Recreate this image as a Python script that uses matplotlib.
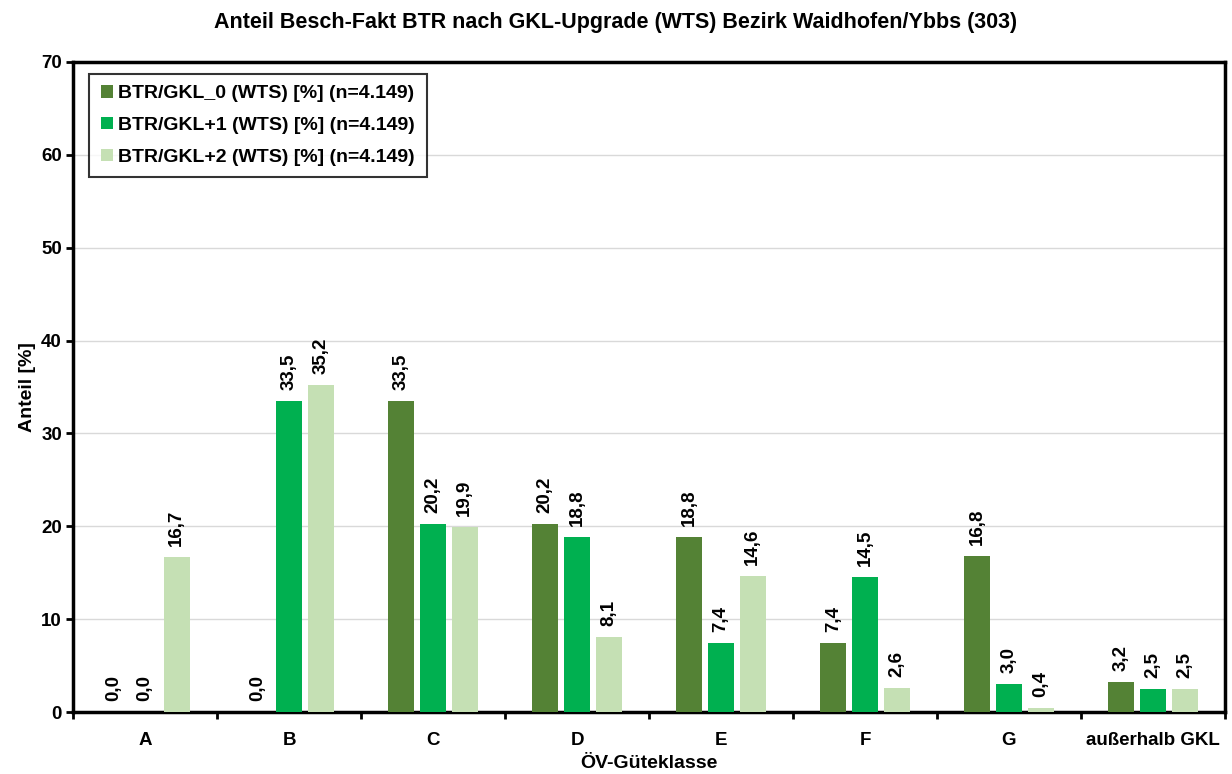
import matplotlib; matplotlib.use('Agg')
from matplotlib import pyplot as plt
import numpy as np

categories = ['A', 'B', 'C', 'D', 'E', 'F', 'G', 'außerhalb GKL']
series_names = ['BTR/GKL_0 (WTS) [%] (n=4.149)',
                'BTR/GKL+1 (WTS) [%] (n=4.149)',
                'BTR/GKL+2 (WTS) [%] (n=4.149)']
gkl_0 = [0.0, 0.0, 33.5, 20.2, 18.8, 7.4, 16.8, 3.2]
gkl_1 = [0.0, 33.5, 20.2, 18.8, 7.4, 14.5, 3.0, 2.5]
gkl_2 = [16.7, 35.2, 19.9, 8.1, 14.6, 2.6, 0.4, 2.5]
colors = ['#548235', '#00B050', '#C5E0B4']

plt.rcParams['font.family'] = ['Liberation Sans', 'DejaVu Sans']
plt.rcParams['font.weight'] = 'bold'

fig = plt.figure(figsize=(12.32, 7.74), dpi=100)
ax = fig.add_axes([0.0593, 0.080, 0.935, 0.840])

x = np.arange(len(categories))
width = 0.18
step = 0.22
for i, (vals, col, name) in enumerate(zip([gkl_0, gkl_1, gkl_2], colors, series_names)):
	pos = x + (i - 1) * step
	ax.bar(pos, vals, width, color=col, label=name, zorder=3)
	for xp, v in zip(pos, vals):
		ax.text(xp, v + 1.2, ('%.1f' % v).replace('.', ','), rotation=90,
			ha='center', va='bottom', fontsize=13.5, fontweight='bold', zorder=4)

ax.set_xlim(-0.5, len(categories) - 0.5)
ax.set_ylim(0, 70)
ax.set_yticks(range(0, 71, 10))
ax.set_xticks(x)
ax.set_xticklabels(categories, fontsize=13.5, fontweight='bold')
ax.set_xticks(np.arange(-0.5, len(categories), 1.0), minor=True)
ax.tick_params(axis='x', which='major', length=0, pad=14)
ax.tick_params(axis='x', which='minor', length=5, width=2, direction='out')
ax.tick_params(axis='y', labelsize=13.5, length=5, width=2, direction='out', pad=3)
for lab in ax.get_yticklabels():
	lab.set_fontweight('bold')
ax.yaxis.grid(True, color='#d9d9d9', linewidth=1, zorder=0)
for sp in ax.spines.values():
	sp.set_linewidth(2.5)
	sp.set_color('black')

ax.set_xlabel('ÖV-Güteklasse', fontsize=14, fontweight='bold', labelpad=5)
ax.set_ylabel('Anteil [%]', fontsize=14, fontweight='bold', labelpad=4)
fig.suptitle('Anteil Besch-Fakt BTR nach GKL-Upgrade (WTS) Bezirk Waidhofen/Ybbs (303)',
	fontsize=15.5, fontweight='bold', y=0.985)

# legend box a bit roomier than default, like the original
leg = ax.legend(loc='upper left', fontsize=14, frameon=True, fancybox=False,
	handlelength=0.6, handleheight=0.6, handletextpad=0.3, borderpad=0.6,
	labelspacing=0.75, borderaxespad=0, bbox_to_anchor=(0.014, 0.982))
leg.get_frame().set_edgecolor('black')
leg.get_frame().set_linewidth(1.5)

plt.savefig('out.png', dpi=100)
